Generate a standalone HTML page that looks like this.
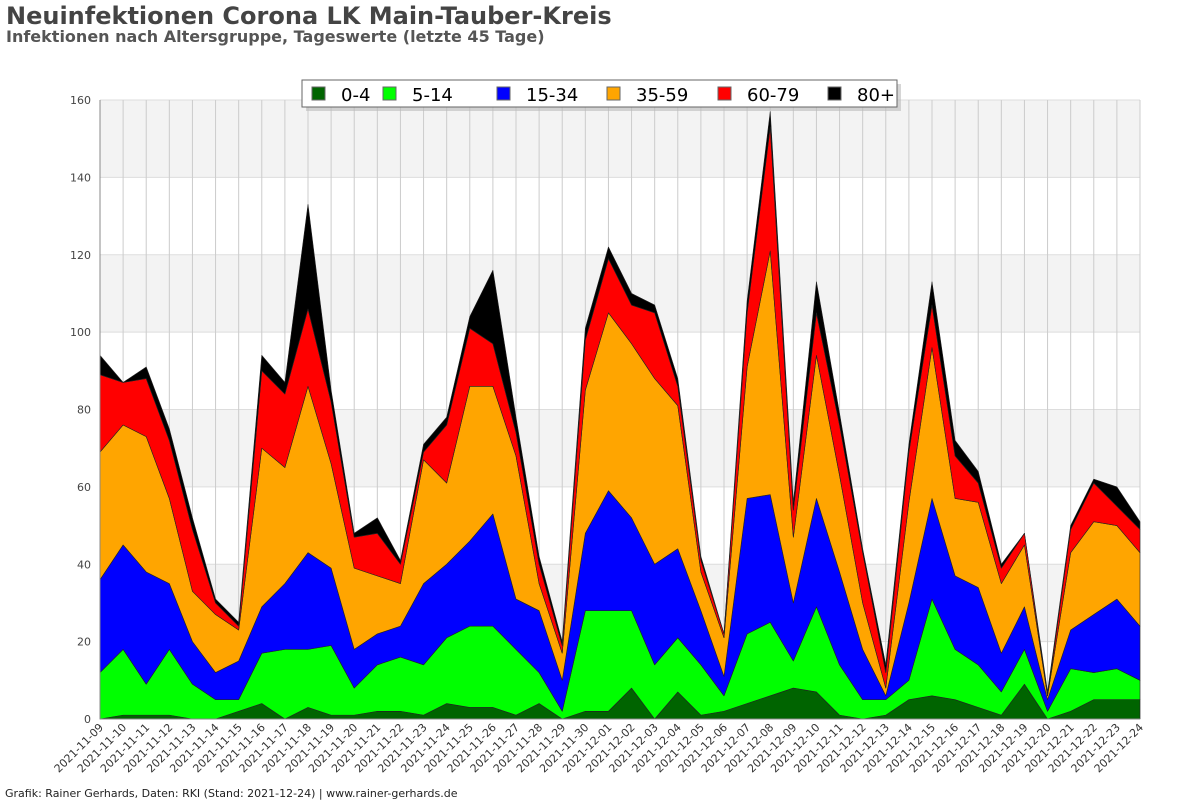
<!DOCTYPE html>
<html><head><meta charset="utf-8"><style>
body{margin:0;background:#fff;}
svg text{font-family:"DejaVu Sans","Liberation Sans",sans-serif;}
</style></head><body>
<svg id="chart" width="1200" height="800" xmlns="http://www.w3.org/2000/svg">
<text x="6" y="24" font-size="24" font-weight="bold" fill="#444">Neuinfektionen Corona LK Main-Tauber-Kreis</text>
<text x="6" y="42" font-size="16" font-weight="bold" fill="#555">Infektionen nach Altersgruppe, Tageswerte (letzte 45 Tage)</text>
<g id="bands"></g>
<g id="grid"></g>
<g id="areas"></g>
<g id="axes"></g>
<g id="legend"></g>
<text x="5" y="797" font-size="11" fill="#222">Grafik: Rainer Gerhards, Daten: RKI (Stand: 2021-12-24) | www.rainer-gerhards.de</text>
</svg>
<script>
const dates = ["2021-11-09","2021-11-10","2021-11-11","2021-11-12","2021-11-13","2021-11-14","2021-11-15","2021-11-16","2021-11-17","2021-11-18","2021-11-19","2021-11-20","2021-11-21","2021-11-22","2021-11-23","2021-11-24","2021-11-25","2021-11-26","2021-11-27","2021-11-28","2021-11-29","2021-11-30","2021-12-01","2021-12-02","2021-12-03","2021-12-04","2021-12-05","2021-12-06","2021-12-07","2021-12-08","2021-12-09","2021-12-10","2021-12-11","2021-12-12","2021-12-13","2021-12-14","2021-12-15","2021-12-16","2021-12-17","2021-12-18","2021-12-19","2021-12-20","2021-12-21","2021-12-22","2021-12-23","2021-12-24"];
const seriesNames = ["0-4","5-14","15-34","35-59","60-79","80+"];
const age0_4   = [0,1,1,1,0,0,2,4,0,3,1,1,2,2,1,4,3,3,1,4,0,2,2,8,0,7,1,2,4,6,8,7,1,0,1,5,6,5,3,1,9,0,2,5,5,5];
const age5_14  = [12,17,8,17,9,5,3,13,18,15,18,7,12,14,13,17,21,21,17,8,2,26,26,20,14,14,13,4,18,19,7,22,13,5,4,5,25,13,11,6,9,2,11,7,8,5];
const age15_34 = [24,27,29,17,11,7,10,12,17,25,20,10,8,8,21,19,22,29,13,16,8,20,31,24,26,23,14,5,35,33,15,28,24,13,1,20,26,19,20,10,11,3,10,15,18,14];
const age35_59 = [33,31,35,22,13,15,8,41,30,43,27,21,15,11,32,21,40,33,37,7,7,37,46,45,48,37,10,10,34,63,17,37,25,12,2,26,39,20,22,18,16,1,20,24,19,19];
const age60_79 = [20,11,15,15,16,3,1,20,19,20,16,8,11,5,2,15,15,11,6,5,2,13,14,10,17,5,3,1,14,32,7,11,13,13,4,13,11,11,5,4,3,0,6,10,5,6];
const age80p   = [5,0,3,3,3,1,1,4,3,27,3,1,4,1,2,2,3,19,4,2,1,3,3,3,2,2,1,0,3,4,2,8,3,1,2,2,6,4,3,1,0,1,1,1,5,2];
const yTicks = [0,20,40,60,80,100,120,140,160];
const series = [age0_4,age5_14,age15_34,age35_59,age60_79,age80p];
const colors = ["#006400","#00ff00","#0000ff","#ffa500","#ff0000","#000000"];
const NS="http://www.w3.org/2000/svg";
const L=100,R=1140,T=100,B=719,yMax=160;
const xS=i=>L+(R-L)*i/(dates.length-1);
const yS=v=>B-(B-T)*v/yMax;
function mk(tag,attrs,parent){const e=document.createElementNS(NS,tag);for(const k in attrs)e.setAttribute(k,attrs[k]);parent.appendChild(e);return e;}
const bands=document.getElementById('bands'),grid=document.getElementById('grid'),areas=document.getElementById('areas'),axes=document.getElementById('axes'),legend=document.getElementById('legend');
for(let k=0;k<yTicks.length-1;k++){
  if(k%2===1){const r=mk('rect',{x:L,y:yS(yTicks[k+1]),width:R-L,height:yS(yTicks[k])-yS(yTicks[k+1]),fill:'#f3f3f3'},bands);
  
  }
}
yTicks.forEach(t=>{
  const l=mk('line',{x1:L,x2:R,y1:yS(t),y2:yS(t),stroke:'#ddd','stroke-width':1},grid);
  
  
  const tx=mk('text',{x:91,y:yS(t)+4,'font-size':11,fill:'#444','text-anchor':'end'},axes);
  tx.textContent=t;
  
  
});
dates.forEach((d,i)=>{
  const l=mk('line',{x1:xS(i),x2:xS(i),y1:T,y2:B,stroke:'#ccc','stroke-width':1},grid);
  
  
  const tx=mk('text',{x:0,y:0,'font-size':11,fill:'#333','text-anchor':'end',transform:`translate(${xS(i)+4},${B+9}) rotate(-45)`},axes);
  tx.textContent=d;
  
  
});
const cum=dates.map(()=>0);
series.forEach((s,si)=>{
  const lower=cum.slice();
  s.forEach((v,i)=>cum[i]+=v);
  let p=dates.map((d,i)=>`${xS(i)},${yS(cum[i])}`);
  let q=dates.map((d,i)=>`${xS(i)},${yS(lower[i])}`).reverse();
  const pg=mk('polygon',{points:p.concat(q).join(' '),fill:colors[si],stroke:'#222','stroke-width':0.6,'stroke-linejoin':'round'},areas);
  
  
});
const ax=mk('line',{x1:L,x2:L,y1:T,y2:B,stroke:'#888','stroke-width':1},axes);


const ax2=mk('line',{x1:L,x2:R,y1:B,y2:B,stroke:'#888','stroke-width':1},axes);


// legend
mk('rect',{x:306,y:84,width:595,height:27,fill:'#bbb',opacity:0.6},legend);
const lb=mk('rect',{x:302,y:80,width:595,height:27,fill:'#fff',stroke:'#666','stroke-width':1},legend);


const lx=[312,383,497,607,718,828];
seriesNames.forEach((n,i)=>{
  const g=mk('g',{},legend);
  
  
  mk('rect',{x:lx[i],y:87,width:13,height:13,fill:colors[i],stroke:'#666','stroke-width':1},g);
  const t=mk('text',{x:lx[i]+29,y:101,'font-size':18,fill:'#000'},g);
  t.textContent=n;
});
</script>
</body></html>
